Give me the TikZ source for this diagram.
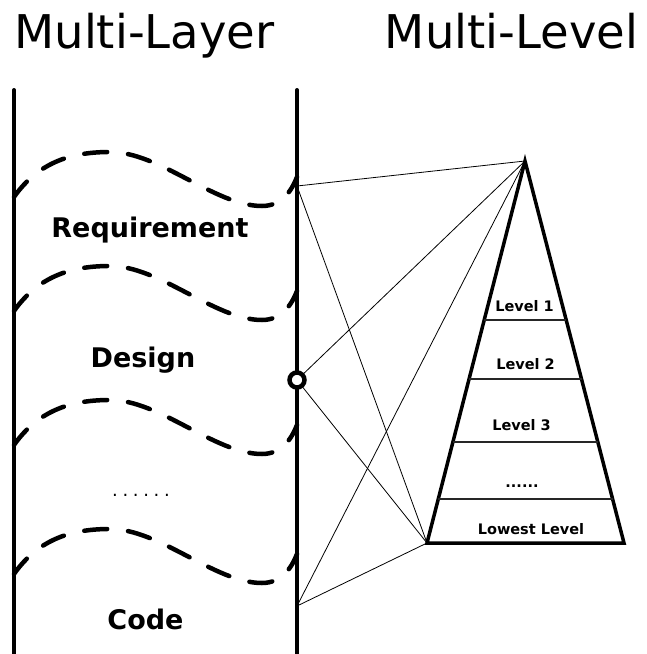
\documentclass[tikz,border=0pt]{standalone}
\usepackage{fontspec}
\setmainfont{DejaVu Sans}
\usetikzlibrary{calc}

\begin{document}
\begin{tikzpicture}[x=1pt,y=-1pt,
  title/.style={anchor=base,inner sep=0pt,font=\fontsize{46.5}{50}\selectfont},
  layer/.style={anchor=base,inner sep=0pt,font=\bfseries\fontsize{27}{30}\selectfont},
  level/.style={anchor=base,inner sep=0pt,font=\bfseries\fontsize{14.5}{16}\selectfont},
  wall/.style={line width=4pt,line cap=round},
  wave/.style={line width=4.5pt,line cap=round,dash pattern=on 23pt off 21pt,dash phase=3pt},
  link/.style={line width=0.8pt},
  pyramid/.style={line width=3.5pt,line join=miter},
  levelline/.style={line width=1.2pt,black!85}]
\useasboundingbox (0,0) rectangle (646,654);

% titles
\node[title] (layertitle) at (144.5,48) {Multi-Layer};
\node[title] (leveltitle) at (511.5,48) {Multi-Level};

% pyramid corners and anchor points on the layer wall
\coordinate (apex) at (525,161);
\coordinate (bl) at (427,543);
\coordinate (br) at (624,543);
\coordinate (A) at (297,186);
\coordinate (C) at (297,606);
\coordinate (walltopL) at (14,90);
\coordinate (wallbotL) at (14,660);
\coordinate (walltopR) at (297,90);
\coordinate (wallbotR) at (297,660);

% links between layers and levels
\draw[link] (A) -- (apex) (A) -- (bl);
\draw[link] (297,380) -- (apex) (297,380) -- (bl);
\draw[link] (C) -- (apex) (C) -- (bl);

% layer walls
\draw[wall] (walltopL) -- (wallbotL);
\draw[wall] (walltopR) -- (wallbotR);

% dashed borders between layers
\foreach \dy in {0,114,248,377}
  \draw[wave,shift={(0,\dy)}] (14,197) .. controls (40,160) and (75,152) .. (110,152)
    .. controls (160,152) and (215,206) .. (262,206)
    .. controls (282,206) and (292,190) .. (297,177);

\node[draw,circle,fill=white,line width=4.5pt,minimum size=15pt,inner sep=0pt] (junction) at (297,380) {};

% layer names
\node[layer] (req) at (150,237) {Requirement};
\node[layer] (design) at (143,367) {Design};
\node[anchor=base,inner sep=0pt,font=\fontsize{18}{20}\selectfont\addfontfeatures{LetterSpace=26}] (moredots) at (141,496) {......};
\node[layer] (code) at (145.5,629) {Code};

% pyramid of levels
\draw[pyramid] (apex) -- (br) -- (bl) -- cycle;
\foreach \t in {0.4162,0.5707,0.7356,0.8848}
  \draw[levelline] ($(apex)!\t!(bl)$) -- ($(apex)!\t!(br)$);

\node[level] (lv1) at (524.5,311) {Level 1};
\node[level] (lv2) at (525.5,369) {Level 2};
\node[level] (lv3) at (521.5,430) {Level 3};
\node[level] (lvdots) at (522,487) {......};
\node[level] (lvlow) at (531,534) {Lowest Level};
\end{tikzpicture}
\end{document}
